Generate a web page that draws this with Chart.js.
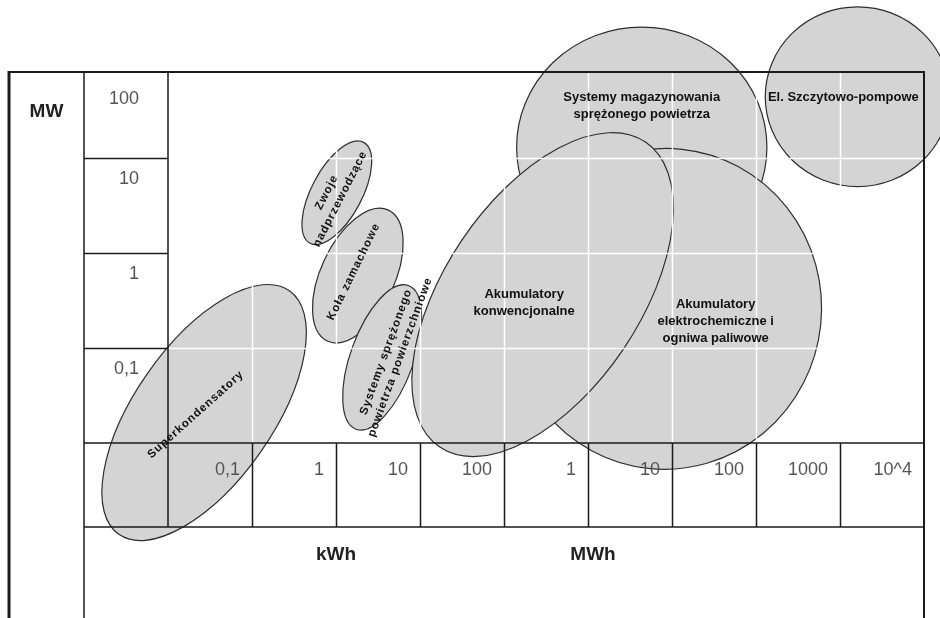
<!DOCTYPE html>
<html>
<head>
<meta charset="utf-8">
<script src="https://cdn.jsdelivr.net/npm/chart.js@4/dist/chart.umd.min.js"></script>
<style>
  html, body { margin: 0; padding: 0; background: #fff; }
  #wrap { width: 940px; height: 618px; }
</style>
</head>
<body>
<div id="wrap"><canvas id="storageChart" width="940" height="618"></canvas></div>
<script>
  // tick labels (energy columns left to right, power rows bottom to top)
  const energyTicks = ['0,1', '1', '10', '100', '1', '10', '100', '1000', '10^4'];
  const powerTicks = ['0,1', '1', '10', '100'];
  const energyUnits = ['kWh', 'MWh'];
  const energyUnitAt = [2, 5.06];
  const powerUnit = 'MW';

  // technologies, in drawing order
  const techNames = [
    'Superkondensatory',
    'Zwoje\nnadprzewodzące',
    'Koła zamachowe',
    'Systemy magazynowania\nsprężonego powietrza',
    'El. Szczytowo-pompowe',
    'Akumulatory\nelektrochemiczne i\nogniwa paliwowe',
    'Systemy sprężonego\npowietrza powierzchniowe',
    'Akumulatory\nkonwencjonalne'
  ];
  // ellipse centre (column units / row units)
  const techEnergy = [0.43, 2.01, 2.26, 5.64, 8.21, 5.92, 2.55, 4.46];
  const techPower  = [0.32, 2.63, 1.76, 3.11, 3.64, 1.41, 0.90, 1.56];
  // half axes (column units) and tilt in degrees
  const techLong  = [1.77, 0.68, 0.86, 1.49, 1.10, 1.91, 0.91, 2.19];
  const techShort = [0.82, 0.30, 0.44, 1.43, 1.07, 1.86, 0.375, 1.16];
  const techTilt  = [55, 62, 65, 0, 0, 84, 70, 56];
  // where each name sits
  const labelEnergy = [0.33, 1.97, 2.21, 5.64, 8.04, 6.52, 2.68, 4.24];
  const labelPower  = [0.30, 2.60, 1.80, 3.54, 3.63, 1.28, 0.93, 1.47];
  const labelTilt   = [42, 63, 64, 0, 0, 0, 70, 0];

  const fill = '#d4d4d4';
  const ink = '#1a1a1a';

  const tablePlugin = {
    id: 'storageTable',
    afterDraw(chart) {
      const { ctx, chartArea: area, scales: { x, y } } = chart;
      const unit = x.getPixelForValue(1) - x.getPixelForValue(0);

      ctx.save();

      // ellipses
      techNames.forEach((name, i) => {
        ctx.beginPath();
        ctx.ellipse(
          x.getPixelForValue(techEnergy[i]), y.getPixelForValue(techPower[i]),
          techLong[i] * unit, techShort[i] * unit,
          -techTilt[i] * Math.PI / 180, 0, Math.PI * 2
        );
        ctx.fillStyle = fill;
        ctx.fill();
        ctx.lineWidth = 1.2;
        ctx.strokeStyle = '#2e2e2e';
        ctx.stroke();
      });

      // white grid over the plot area
      ctx.strokeStyle = '#ffffff';
      ctx.lineWidth = 1.5;
      for (let c = 1; c < energyTicks.length; c++) {
        const px = Math.round(x.getPixelForValue(c)) + 0.5;
        ctx.beginPath();
        ctx.moveTo(px, area.top);
        ctx.lineTo(px, area.bottom);
        ctx.stroke();
      }
      for (let r = 1; r < powerTicks.length; r++) {
        const py = Math.round(y.getPixelForValue(r)) + 0.5;
        ctx.beginPath();
        ctx.moveTo(area.left, py);
        ctx.lineTo(area.right, py);
        ctx.stroke();
      }

      // table frame
      const unitCol = area.left - 84;
      const outer = area.left - 159;
      const labelRow = area.bottom + 84;
      const H = chart.height;
      ctx.strokeStyle = ink;
      const line = (x1, y1, x2, y2, w) => {
        ctx.lineWidth = w;
        ctx.beginPath();
        ctx.moveTo(x1, y1);
        ctx.lineTo(x2, y2);
        ctx.stroke();
      };
      line(outer, area.top, area.right + 1, area.top, 2);
      line(outer, area.top - 1, outer, H, 3);
      line(area.right, area.top - 1, area.right, H, 2);
      line(unitCol, area.top, unitCol, H, 1.5);
      line(area.left, area.top, area.left, labelRow, 1.5);
      line(unitCol, area.bottom, area.right, area.bottom, 1.5);
      line(unitCol, labelRow, area.right, labelRow, 1.5);
      for (let r = 1; r < powerTicks.length; r++) {
        const py = Math.round(y.getPixelForValue(r)) + 0.5;
        line(unitCol, py, area.left, py, 1.5);
      }
      for (let c = 1; c < energyTicks.length; c++) {
        const px = Math.round(x.getPixelForValue(c)) + 0.5;
        line(px, area.bottom, px, labelRow, 1.5);
      }

      // tick labels
      ctx.fillStyle = '#555';
      ctx.font = '18px "Liberation Sans", Arial, sans-serif';
      ctx.textBaseline = 'middle';
      ctx.textAlign = 'right';
      powerTicks.forEach((t, r) => {
        const top = r + 1 < powerTicks.length ? y.getPixelForValue(r + 1) : area.top;
        ctx.fillText(t, area.left - 29, top + (r + 1 < powerTicks.length ? 21 : 27));
      });
      energyTicks.forEach((t, c) => {
        ctx.fillText(t, x.getPixelForValue(c + 1) - 12, area.bottom + 27);
      });

      // unit labels
      ctx.fillStyle = '#222';
      ctx.font = 'bold 19px "Liberation Sans", Arial, sans-serif';
      ctx.textAlign = 'center';
      energyUnits.forEach((u, i) => {
        ctx.fillText(u, x.getPixelForValue(energyUnitAt[i]), area.bottom + 112);
      });
      ctx.fillText(powerUnit, (outer + unitCol) / 2, area.top + 40);

      // technology names
      ctx.fillStyle = '#111';
      techNames.forEach((name, i) => {
        const rows = name.split('\n');
        const tilted = labelTilt[i] !== 0;
        ctx.font = tilted
          ? 'bold 11.5px "Liberation Sans", Arial, sans-serif'
          : 'bold 13px "Liberation Sans", Arial, sans-serif';
        ctx.letterSpacing = tilted ? '1px' : '0px';
        const lh = tilted ? 15 : 17;
        ctx.save();
        ctx.translate(x.getPixelForValue(labelEnergy[i]), y.getPixelForValue(labelPower[i]));
        ctx.rotate(-labelTilt[i] * Math.PI / 180);
        rows.forEach((row, k) => {
          ctx.fillText(row, 0, (k - (rows.length - 1) / 2) * lh);
        });
        ctx.restore();
      });

      ctx.restore();
    }
  };

  new Chart(document.getElementById('storageChart'), {
    type: 'scatter',
    data: {
      datasets: [{
        data: techNames.map((n, i) => ({ x: techEnergy[i], y: techPower[i] })),
        pointRadius: 0
      }]
    },
    options: {
      responsive: false,
      animation: false,
      layout: { padding: { left: 168, top: 72, right: 16, bottom: 175 } },
      plugins: { legend: { display: false }, tooltip: { enabled: false } },
      scales: {
        x: { type: 'linear', min: 0, max: 9, display: false },
        y: { type: 'linear', min: 0, max: 3.9, display: false }
      }
    },
    plugins: [tablePlugin]
  });
</script>
</body>
</html>
